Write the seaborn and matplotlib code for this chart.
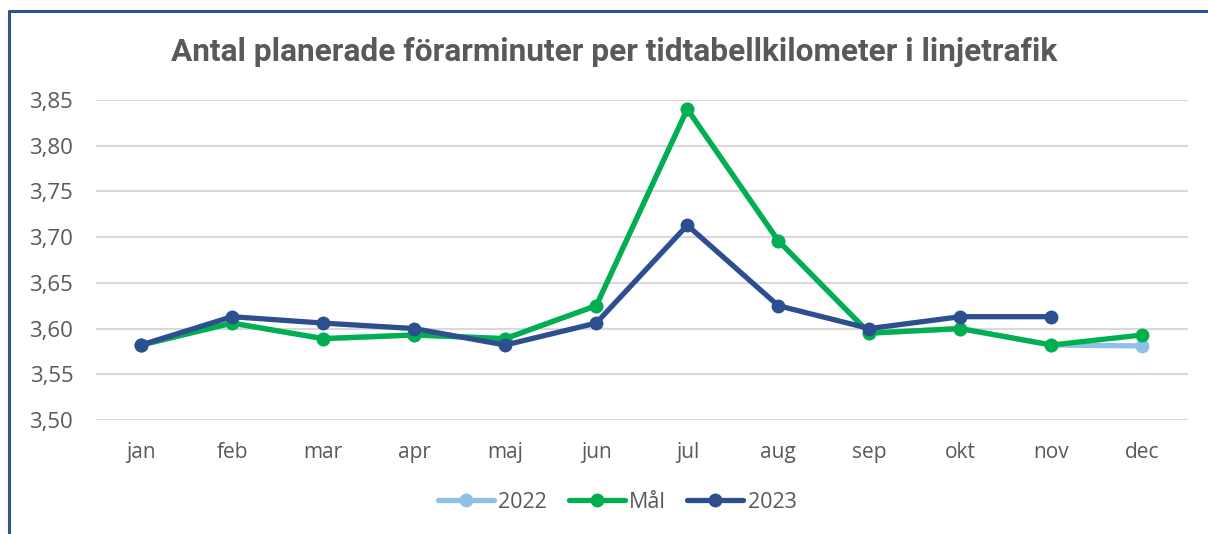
import matplotlib
matplotlib.use("Agg")
import matplotlib.pyplot as plt
from matplotlib.lines import Line2D
import numpy as np
import pandas as pd
import seaborn as sns

months = ["jan", "feb", "mar", "apr", "maj", "jun", "jul", "aug", "sep", "okt", "nov", "dec"]
v2022 = [3.582, 3.606, 3.589, 3.593, 3.589, 3.625, 3.840, 3.696, 3.595, 3.600, 3.582, 3.581]
mal = [3.582, 3.606, 3.589, 3.593, 3.589, 3.625, 3.840, 3.696, 3.595, 3.600, 3.582, 3.593]
v2023 = [3.582, 3.613, 3.606, 3.600, 3.582, 3.606, 3.713, 3.625, 3.600, 3.613, 3.613, np.nan]
series_names = ["2022", "Mål", "2023"]
yticks = [3.50, 3.55, 3.60, 3.65, 3.70, 3.75, 3.80, 3.85]

colors = {"2022": "#8FC1E6", "Mål": "#00B050", "2023": "#2E4F8F"}
text_col = "#595959"

df = pd.DataFrame({
    "month": months * 3,
    "value": v2022 + mal + v2023,
    "series": [s for s in series_names for _ in months],
})

sns.set_theme(style="white")
plt.rcParams["font.family"] = ["Open Sans", "DejaVu Sans"]

fig = plt.figure(figsize=(12.08, 5.34), dpi=100)
ax = fig.add_axes([95.5 / 1208, 1 - 420 / 534, (1188 - 95.5) / 1208, 320 / 534])

sns.lineplot(
    data=df, x="month", y="value", hue="series", hue_order=series_names,
    palette=colors, marker="o", markersize=10, markeredgewidth=0,
    linewidth=3.8, sort=False, ax=ax, legend=False,
)

ax.set_xlim(-0.5, len(months) - 0.5)
ax.set_ylim(3.50, 3.85)
ax.set_yticks(yticks)
ax.set_yticklabels([f"{t:.2f}".replace(".", ",") for t in yticks])
ax.set_xlabel("")
ax.set_ylabel("")
ax.grid(axis="y", color="#D9D9D9", linewidth=1.5)
ax.set_axisbelow(True)
for sp in ax.spines.values():
    sp.set_visible(False)
ax.tick_params(axis="y", length=0, pad=16, labelsize=16, labelcolor=text_col)
ax.tick_params(axis="x", length=0, pad=16, labelsize=15, labelcolor=text_col)

fig.text(0.508, 1 - 52 / 534, "Antal planerade förarminuter per tidtabellkilometer i linjetrafik",
         ha="center", va="center", fontsize=22.8, fontweight="bold", color=text_col,
         family=["Roboto", "DejaVu Sans"])

handles = [Line2D([], [], color=colors[s], linewidth=3.8, marker="o", markersize=10,
                  markeredgewidth=0, solid_capstyle="round") for s in series_names]
fig.legend(handles, series_names, loc="center", bbox_to_anchor=(0.511, 1 - 502 / 534),
           ncol=3, frameon=False, fontsize=15.5, labelcolor=text_col,
           handlelength=2.6, handletextpad=0.2, columnspacing=1.0)

# frame lines along the top and left edge
fig.add_artist(Line2D([9 / 1208, 9 / 1208], [0, 1 - 11 / 534], transform=fig.transFigure,
                      color="#2F5597", linewidth=2.2))
fig.add_artist(Line2D([9 / 1208, 1], [1 - 11 / 534, 1 - 11 / 534], transform=fig.transFigure,
                      color="#2F5597", linewidth=2.2))

fig.savefig("out.png", dpi=100, facecolor="white")
